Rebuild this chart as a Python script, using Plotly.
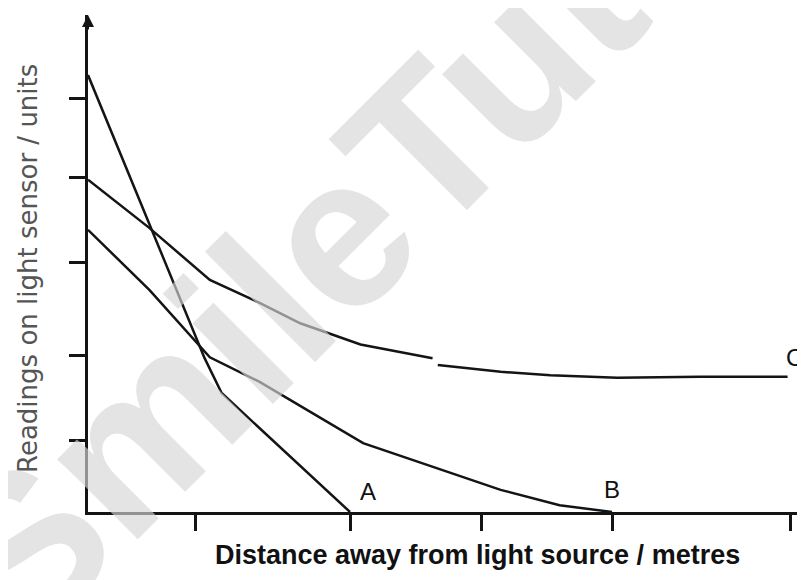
import plotly.graph_objects as go

# readings (x in metres, y in sensor units, no scale printed)
a_x = [0, 0.47, 0.74, 0.89, 1.02, 2.0]
a_y = [5.14, 3.38, 2.38, 1.81, 1.40, 0]

b_x = [0, 0.47, 0.93, 1.31, 2.10, 2.61, 3.15, 3.60, 4.0]
b_y = [3.32, 2.61, 1.82, 1.53, 0.81, 0.54, 0.26, 0.08, 0]

# C has a small break in the pencil line around 2.65 m
c_x = [0, 0.47, 0.93, 1.31, 1.62, 2.08, 2.63, None, 2.67, 3.15, 3.53, 4.04, 4.67, 5.34]
c_y = [3.91, 3.34, 2.73, 2.46, 2.22, 1.97, 1.81, None, 1.73, 1.65, 1.61, 1.58, 1.59, 1.59]

x_ticks = [0.82, 2.0, 3.0, 4.0, 5.36]
y_ticks = [0.84, 1.84, 2.94, 3.94, 4.86]

line_col = "#141414"

fig = go.Figure()
for xs, ys in [(a_x, a_y), (b_x, b_y), (c_x, c_y)]:
    fig.add_trace(go.Scatter(x=xs, y=ys, mode="lines", connectgaps=False,
                             line=dict(color=line_col, width=2.5), showlegend=False))

fig.update_xaxes(range=[0, 5.473], showline=True, linecolor=line_col, linewidth=2.5,
                 ticks="outside", tickvals=x_ticks, ticklen=16, tickwidth=3, tickcolor=line_col,
                 showticklabels=False, showgrid=False, zeroline=False)
fig.update_yaxes(range=[0, 5.847], showline=True, linecolor=line_col, linewidth=2.5,
                 ticks="outside", tickvals=y_ticks, ticklen=16, tickwidth=3, tickcolor=line_col,
                 showticklabels=False, showgrid=False, zeroline=False)

lab_font = dict(family="Liberation Sans", size=24, color="#111")

anns = [
    # arrow head on the y axis
    dict(x=0, y=5.847, xref="x", yref="y", ax=0, ay=16, text="", showarrow=True,
         arrowhead=2, arrowsize=1.2, arrowwidth=2, arrowcolor=line_col),
    dict(x=2.14, y=0.24, xref="x", yref="y", text="A", showarrow=False, font=lab_font),
    dict(x=4.0, y=0.27, xref="x", yref="y", text="B", showarrow=False, font=lab_font),
    dict(x=5.31, y=1.82, xref="x", yref="y", text="C", showarrow=False, xanchor="left", font=lab_font),
    dict(x=0.543, y=-0.087, xref="paper", yref="paper", text="Distance away from light source / metres",
         xanchor="center", yanchor="middle", showarrow=False,
         font=dict(family="Liberation Sans", size=27, color="#111", weight="bold")),
    dict(x=-0.0837, y=0.491, xref="paper", yref="paper", text="Readings on light sensor / units",
         xanchor="center", yanchor="middle", showarrow=False, textangle=-90,
         font=dict(family="DejaVu Sans", size=26, color="#555")),
    # watermark sits on top of everything
    dict(x=0.385, y=0.613, xref="paper", yref="paper", text="SmileTutor", showarrow=False,
         xanchor="center", yanchor="middle", textangle=-45,
         font=dict(family="Liberation Sans", size=215, color="rgba(214,214,214,0.65)", weight="bold")),
]

# page body adds an 8px offset, so the figure is 8px smaller and margins shifted
fig.update_layout(width=797, height=572, margin=dict(l=80, r=0, t=7, b=68, autoexpand=False),
                  plot_bgcolor="white", paper_bgcolor="white", annotations=anns)

fig.write_html("out.html")
